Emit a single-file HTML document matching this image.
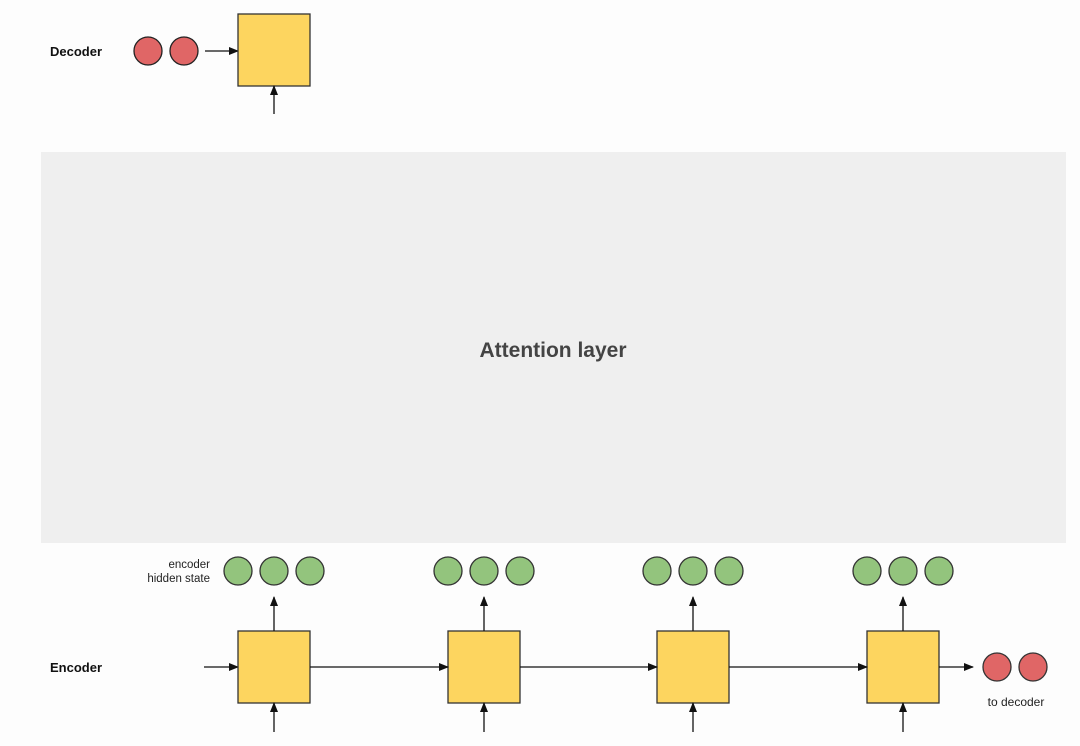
<!DOCTYPE html>
<html><head><style>
body{margin:0;background:#fff;}
svg{display:block;font-family:"Liberation Sans",Arial,sans-serif;}
</style></head><body>
<svg width="1080" height="746" viewBox="0 0 1080 746" xmlns="http://www.w3.org/2000/svg">
<defs>
<marker id="a" markerWidth="10" markerHeight="8" refX="9" refY="4" orient="auto" markerUnits="userSpaceOnUse">
<path d="M0,0 L10,4 L0,8 z" fill="#111"/></marker>
</defs>
<rect width="1080" height="746" fill="#fdfdfd"/>
<rect x="41" y="152" width="1025" height="391" fill="#efefef"/>
<text x="553" y="357" text-anchor="middle" font-size="21" font-weight="bold" fill="#444">Attention layer</text>

<text x="50" y="56" font-size="13" font-weight="bold" fill="#111">Decoder</text>
<circle cx="148" cy="51" r="14" fill="#e06666" stroke="#222" stroke-width="1.3"/>
<circle cx="184" cy="51" r="14" fill="#e06666" stroke="#222" stroke-width="1.3"/>
<line x1="205" y1="51" x2="238" y2="51" stroke="#111" stroke-width="1.3" marker-end="url(#a)"/>
<rect x="238" y="14" width="72" height="72" fill="#fdd55f" stroke="#333" stroke-width="1.3"/>
<line x1="274" y1="114" x2="274" y2="86" stroke="#111" stroke-width="1.3" marker-end="url(#a)"/>

<text x="50" y="672" font-size="13" font-weight="bold" fill="#111">Encoder</text>
<text x="210" y="568" text-anchor="end" font-size="11.5" fill="#222">encoder</text>
<text x="210" y="582" text-anchor="end" font-size="11.5" fill="#222">hidden state</text>
<line x1="204" y1="667" x2="238" y2="667" stroke="#111" stroke-width="1.3" marker-end="url(#a)"/>
<g stroke="#333" stroke-width="1.3">
<g id="u">
<circle cx="238" cy="571" r="14" fill="#93c47d"/>
<circle cx="274" cy="571" r="14" fill="#93c47d"/>
<circle cx="310" cy="571" r="14" fill="#93c47d"/>
<rect x="238" y="631" width="72" height="72" fill="#fdd55f"/>
<line x1="274" y1="631" x2="274" y2="597" stroke="#111" marker-end="url(#a)"/>
<line x1="274" y1="732" x2="274" y2="703" stroke="#111" marker-end="url(#a)"/>
</g>
<use href="#u" x="210"/>
<use href="#u" x="419"/>
<use href="#u" x="629"/>
<line x1="310" y1="667" x2="448" y2="667" stroke="#111" marker-end="url(#a)"/>
<line x1="520" y1="667" x2="657" y2="667" stroke="#111" marker-end="url(#a)"/>
<line x1="729" y1="667" x2="867" y2="667" stroke="#111" marker-end="url(#a)"/>
<line x1="939" y1="667" x2="973" y2="667" stroke="#111" marker-end="url(#a)"/>
<circle cx="997" cy="667" r="14" fill="#e06666"/>
<circle cx="1033" cy="667" r="14" fill="#e06666"/>
</g>
<text x="1016" y="706" text-anchor="middle" font-size="12" fill="#222">to decoder</text>
</svg>
</body></html>
